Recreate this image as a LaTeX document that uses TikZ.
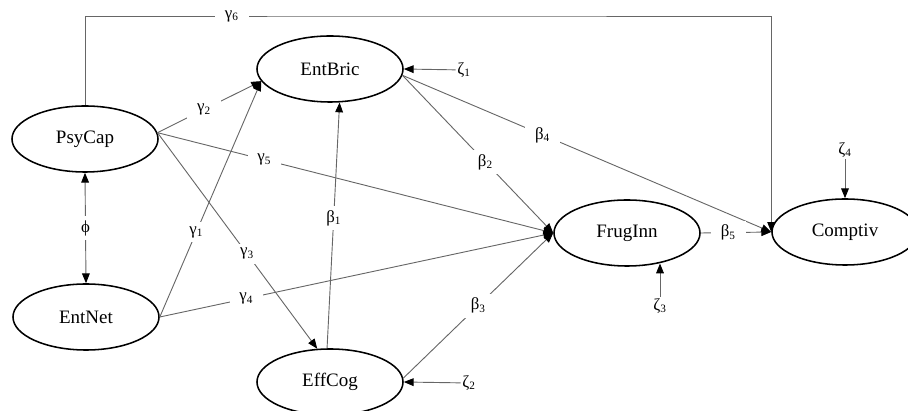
\documentclass[tikz,border=0pt]{standalone}
\usepackage{fontspec}
\setmainfont{Liberation Serif}
\usetikzlibrary{arrows.meta,positioning,shapes.geometric}
\newcommand{\coef}[2]{#1\textsubscript{#2}}

\begin{document}
\begin{tikzpicture}[x=0.025cm, y=-0.025cm,
    >={Triangle[length=7pt,width=5.5pt,color=black]},
    latent/.style={ellipse, draw=black, line width=1.1pt, inner sep=0pt,
      minimum width=3.65cm, minimum height=1.65cm, font=\fontsize{13.5}{16}\selectfont},
    link/.style={->, draw=black!60, line width=0.65pt},
    coef/.style={fill=white, inner xsep=7pt, inner ysep=3pt, font=\fontsize{12}{14}\selectfont},
    err/.style={inner sep=1pt, font=\fontsize{12}{14}\selectfont}]
    \useasboundingbox (0,0) rectangle (908,411);
    \clip (0,0) rectangle (908,411);
    % Latent constructs
    \node[latent] (psycap) at (85,139) {PsyCap};
    \node[latent] (entbric) at (330,69) {EntBric};
    \node[latent] (entnet) at (86,317) {EntNet};
    \node[latent] (effcog) at (330,382) {EffCog};
    \node[latent] (fruginn) at (627,233) {FrugInn};
    \node[latent] (comptiv) at (845,232) {Comptiv};
    % Disturbance terms
    \node[err] (z1) at (464,70) {\coef{ζ}{1}};
    \node[err] (z2) at (469,383) {\coef{ζ}{2}};
    \node[err] (z3) at (660,306) {\coef{ζ}{3}};
    \node[err] (z4) at (845,150) {\coef{ζ}{4}};
    \draw[link] (z1) -- (entbric.east);
    \draw[link] (z2) -- (effcog.east);
    \draw[link] (z3) -- (z3 |- fruginn.-44);
    \draw[link] (z4) -- (comptiv.north);
    % Correlation between exogenous constructs
    \draw[link, <->] (psycap.south) -- node[coef] {ϕ} (entnet.north);
    % Structural paths (gamma: exogenous, beta: endogenous)
    \coordinate (top) at (445,16);
    \draw[link] (psycap.north) |- node[coef, pos=0.704] {\coef{γ}{6}} (top) -| (comptiv.west);
    \draw[link] (psycap.5) -- node[coef, pos=0.45] {\coef{γ}{2}} (entbric.190);
    \draw[link] (psycap.5) -- node[coef, pos=0.27] {\coef{γ}{5}} (fruginn.west);
    \draw[link] (psycap.5) -- node[coef, pos=0.56] {\coef{γ}{3}} (effcog.111);
    \draw[link] (entnet.east) -- node[coef, pos=0.36] {\coef{γ}{1}} (entbric.190);
    \draw[link] (entnet.east) -- node[coef, pos=0.22] {\coef{γ}{4}} (fruginn.west);
    \draw[link] (effcog.95) -- node[coef, pos=0.53] {\coef{β}{1}} (entbric.-74);
    \draw[link] (entbric.-5) -- node[coef, pos=0.55] {\coef{β}{2}} (fruginn.west);
    \draw[link] (entbric.-5) -- node[coef, pos=0.38] {\coef{β}{4}} (comptiv.west);
    \draw[link] (effcog.3) -- node[coef, pos=0.5] {\coef{β}{3}} (fruginn.west);
    \draw[link] (fruginn.east) -- node[coef, pos=0.39] {\coef{β}{5}} (comptiv.west);
\end{tikzpicture}
\end{document}
